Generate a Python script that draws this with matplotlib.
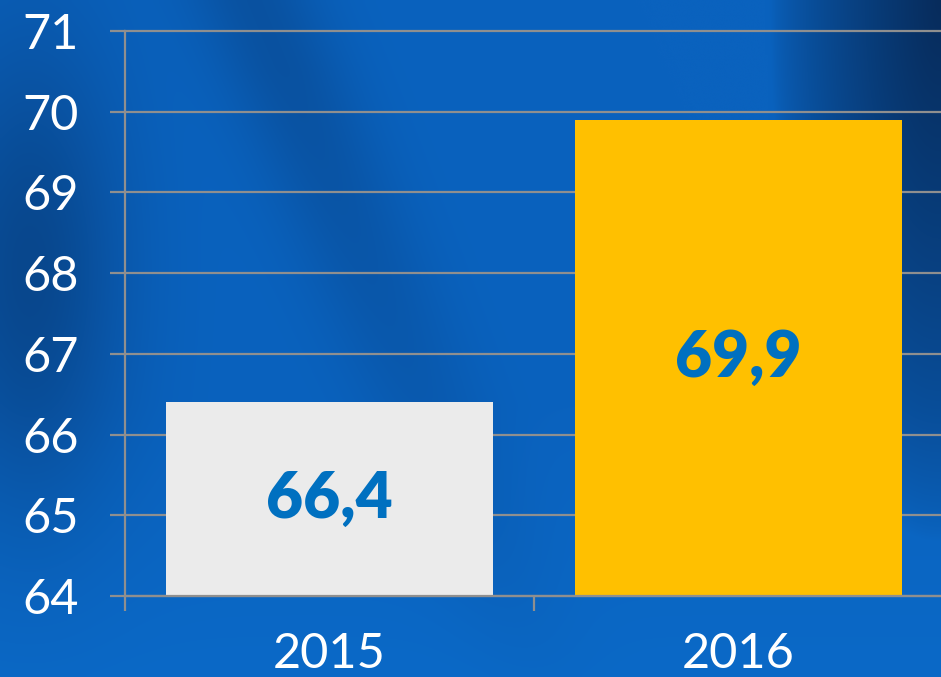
import numpy as np
import matplotlib
matplotlib.use("Agg")
import matplotlib.pyplot as plt
from matplotlib.colors import to_rgb

categories = ["2015", "2016"]
values = [66.4, 69.9]
value_labels = ["66,4", "69,9"]
bar_colors = ["#EBEBEB", "#FFC000"]
yticks = [64, 65, 66, 67, 68, 69, 70, 71]

W, H = 941, 677
fig = plt.figure(figsize=(W / 100, H / 100), dpi=100)

# decorative blue background
bg = fig.add_axes([0, 0, 1, 1], zorder=0)
bg.set_axis_off()
ny, nx = 200, 280
yy, xx = np.mgrid[0:1:ny * 1j, 0:1:nx * 1j]  # yy=0 at top
base = np.array(to_rgb("#0A62BE"))
dark = np.array(to_rgb("#072C5C"))
# darker region at top right
d_tr = np.clip(1 - np.hypot((1 - xx) / 0.18, yy / 0.8), 0, 1) ** 0.7
# darker soft band left
d_l = 0.5 * np.exp(-((xx - 0.03) / 0.10) ** 2) * np.exp(-((yy - 0.4) / 0.35) ** 2)
# diagonal soft darker streak
d_s = 0.30 * np.exp(-(((xx - 0.42) - 0.30 * (yy - 0.5)) / 0.07) ** 2) * np.clip(1.1 - yy, 0, 1)
# lighter bottom
light = np.clip(yy - 0.6, 0, 1) / 0.4
t = np.clip(d_tr + d_l + d_s, 0, 1)[..., None]
img = base * (1 - t) + dark * t
img = img + 0.5 * light[..., None] * (np.array(to_rgb("#0B70D0")) - base)
bg.imshow(np.clip(img, 0, 1), aspect="auto", extent=[0, 1, 0, 1], interpolation="bicubic")
bg.set_xlim(0, 1)
bg.set_ylim(0, 1)

left = 125 / W
bottom = (H - 596) / H
height = (596 - 31) / H
width = 818 / W
ax = fig.add_axes([left, bottom, width, height], zorder=1)
ax.patch.set_alpha(0)

x = np.arange(len(categories))
bars = ax.bar(x, [v - 64 for v in values], bottom=64, width=0.8, color=bar_colors, zorder=3)

for xi, v, lab in zip(x, values, value_labels):
    ax.text(xi, (64 + v) / 2, lab, ha="center", va="center", fontsize=46,
            fontweight="heavy", color="#0070C0", family="Lato", zorder=4)

ax.set_xlim(-0.5, 1.5)
ax.set_ylim(64, 71)
ax.set_yticks(yticks)
ax.set_yticklabels([str(t) for t in yticks])
ax.set_xticks(x)
ax.set_xticklabels(categories)
ax.set_xticks([-0.5, 0.5], minor=True)

grid_color = "#8F8F8F"
for yt in yticks:
    ax.axhline(yt, color=grid_color, lw=1.6, zorder=2, clip_on=False)

for s in ["top", "right"]:
    ax.spines[s].set_visible(False)
for s in ["left", "bottom"]:
    ax.spines[s].set_color(grid_color)
    ax.spines[s].set_linewidth(1.6)
    ax.spines[s].set_zorder(5)

ax.tick_params(axis="y", which="major", length=11, width=1.6, color=grid_color,
               direction="out", pad=22, labelsize=35, labelcolor="white")
ax.tick_params(axis="x", which="major", length=0, pad=26, labelsize=35, labelcolor="white")
ax.tick_params(axis="x", which="minor", length=11, width=1.6, color=grid_color, direction="out")
for lab in ax.get_yticklabels() + ax.get_xticklabels():
    lab.set_family("Lato")
    lab.set_fontweight("normal")

fig.savefig("out.png", dpi=100)
